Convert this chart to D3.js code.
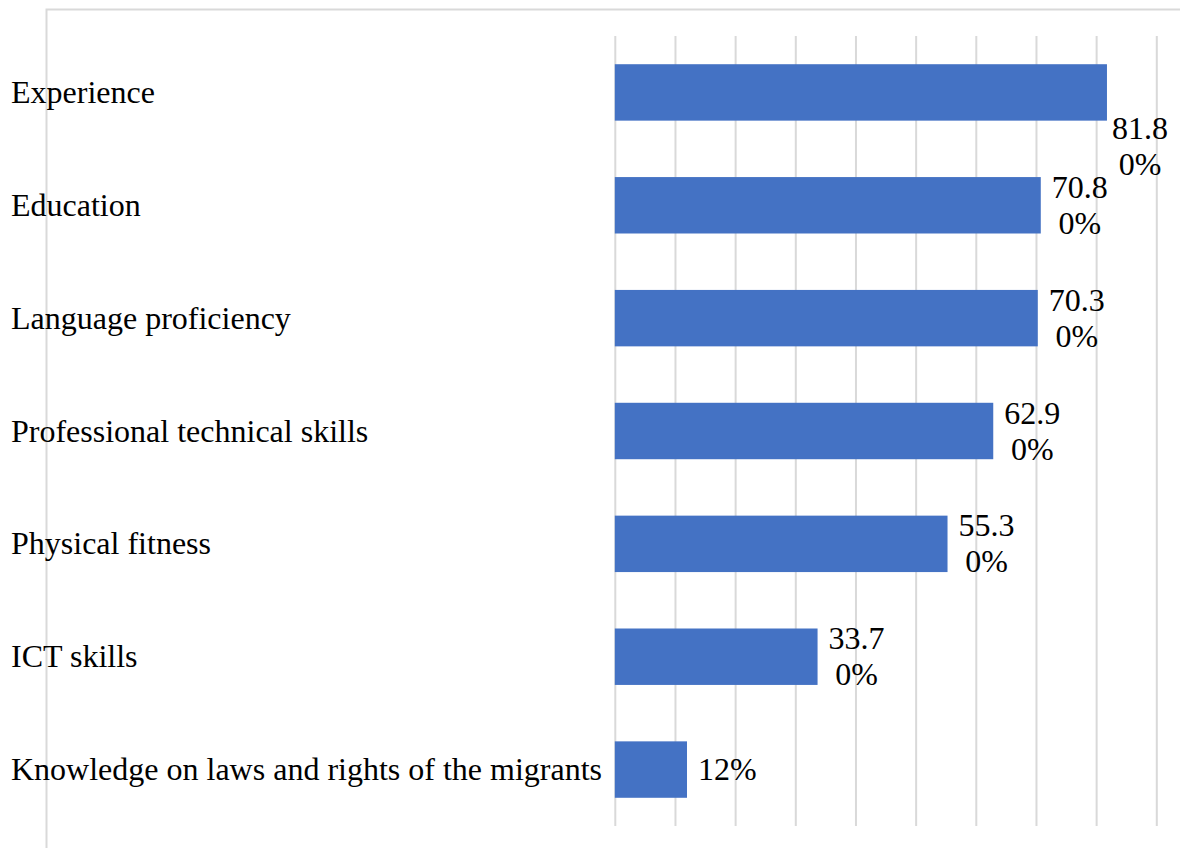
<!DOCTYPE html>
<html>
<head>
<meta charset="utf-8">
<script src="https://cdn.jsdelivr.net/npm/d3@7/dist/d3.min.js"></script>
<style>
  html, body { margin: 0; padding: 0; background: #fff; }
  svg { display: block; }
</style>
</head>
<body>
<svg id="chart" width="1180" height="848"></svg>
<script>
// Share of respondents naming each factor (%)
const categories = [
  "Experience",
  "Education",
  "Language proficiency",
  "Professional technical skills",
  "Physical fitness",
  "ICT skills",
  "Knowledge on laws and rights of the migrants"
];
const values = [81.8, 70.8, 70.3, 62.9, 55.3, 33.7, 12];
const valueLabels = ["81.80%", "70.80%", "70.30%", "62.90%", "55.30%", "33.70%", "12%"];
const xTicks = [0, 10, 20, 30, 40, 50, 60, 70, 80, 90];

const svg = d3.select("#chart");
const W = 1180, H = 848;
const plot = { left: 614.8, right: 1156.3, top: 36, bottom: 826 };
const fontSize = 32;
const fontFamily = "'Liberation Serif'";
const barColor = "#4472C4";
const gridColor = "#d9d9d9";

// Chart area border (runs past the right and bottom edges of the page)
svg.append("rect")
  .attr("x", 46.5).attr("y", 9.5)
  .attr("width", W + 20).attr("height", H + 20)
  .attr("fill", "none").attr("stroke", gridColor).attr("stroke-width", 2);

const x = d3.scaleLinear().domain([0, 90]).range([plot.left, plot.right]);
const y = d3.scaleBand().domain(categories).range([plot.top, plot.bottom])
  .paddingInner(0.5).paddingOuter(0.25);

// Vertical gridlines
const xAxis = d3.axisBottom(x).tickValues(xTicks)
  .tickSize(-(plot.bottom - plot.top)).tickFormat("");
const gx = svg.append("g").attr("transform", `translate(0,${plot.bottom})`).call(xAxis);
gx.select(".domain").remove();
gx.selectAll(".tick line").attr("stroke", gridColor).attr("stroke-width", 2);

// Bars
svg.append("g").selectAll("rect").data(categories).join("rect")
  .attr("x", x(0))
  .attr("y", d => y(d))
  .attr("width", (d, i) => x(values[i]) - x(0))
  .attr("height", y.bandwidth())
  .attr("fill", barColor);

// Category labels, left aligned
const yAxis = d3.axisLeft(y).tickSize(0).tickPadding(0);
const gy = svg.append("g").call(yAxis)
  .attr("font-family", fontFamily).attr("font-size", fontSize);
gy.select(".domain").remove();
gy.selectAll(".tick text")
  .attr("x", 11).attr("dy", "0.33em")
  .attr("text-anchor", "start")
  .attr("font-family", fontFamily)
  .style("font-family", fontFamily)
  .style("font-size", fontSize + "px")
  .attr("fill", "#000");

// Value labels: wrap to a limited width, centred lines
const maxLabelW = 60;
const lineH = 36;
const measure = svg.append("text")
  .attr("font-family", fontFamily).style("font-family", fontFamily)
  .style("font-size", fontSize + "px").attr("visibility", "hidden");
function wrap(str) {
  const lines = [];
  let cur = "";
  for (const ch of str) {
    measure.text(cur + ch);
    if (cur && measure.node().getComputedTextLength() > maxLabelW) { lines.push(cur); cur = ch; }
    else cur += ch;
  }
  if (cur) lines.push(cur);
  return lines;
}
function width(str) { measure.text(str); return measure.node().getComputedTextLength(); }

const labels = svg.append("g");
categories.forEach((c, i) => {
  const lines = wrap(valueLabels[i]);
  const blockW = d3.max(lines, width);
  const end = x(values[i]);
  let cx = end + 11 + blockW / 2;
  let cy = y(c) + y.bandwidth() / 2;
  // Labels that would run past the chart's right edge drop below the bar end
  if (end + 11 + blockW > plot.right) {
    cx = end + 5 + blockW / 2;
    cy = y(c) + y.bandwidth() * 1.45;
  }
  const t = labels.append("text")
    .attr("text-anchor", "middle")
    .attr("font-family", fontFamily)
    .style("font-family", fontFamily)
    .style("font-size", fontSize + "px")
    .attr("fill", "#000");
  lines.forEach((ln, k) => {
    t.append("tspan")
      .attr("x", cx)
      .attr("y", cy + (k - (lines.length - 1) / 2) * lineH)
      .attr("dy", "0.33em")
      .text(ln);
  });
});
measure.remove();
</script>
</body>
</html>
